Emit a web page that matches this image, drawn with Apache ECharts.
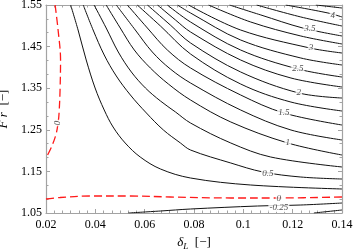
<!DOCTYPE html>
<html><head><meta charset="utf-8">
<script src="https://cdn.jsdelivr.net/npm/echarts@6/dist/echarts.min.js"></script>
<style>html,body{margin:0;padding:0;background:#fff}#c{width:354px;height:250px}</style>
</head><body><div id="c"></div>
<script>
const xTickLabels = ['0.02','0.04','0.06','0.08','0.1','0.12','0.14'];
const yTickLabels = ['1.05','1.15','1.25','1.35','1.45','1.55'];

// contour level 0 (red, dashed) – two branches
const zeroLeft = [[0.0237,1.55],[0.0249,1.4899],[0.0259,1.4178],[0.0257,1.3457],[0.0253,1.2904],[0.0249,1.2663],[0.0241,1.2399],[0.0224,1.2111],[0.0200,1.1822]];
const zeroBottom = [[0.0200,1.0837],[0.0257,1.0873],[0.0379,1.0909],[0.0542,1.0909],[0.0704,1.0885],[0.0949,1.0861],[0.1144,1.0861],[0.1400,1.0885]];
// black contours
const neg050 = [[0.1286,1.05],[0.14,1.0572]];
const neg025 = [[0.0534,1.05],[0.0664,1.0548],[0.0786,1.0596],[0.1058,1.0668],[0.1233,1.0692],[0.14,1.0740]];
const pos025 = [[0.0300,1.55],[0.0330,1.4899],[0.0363,1.4178],[0.0399,1.3505],[0.0436,1.2976],[0.0472,1.2567],[0.0521,1.2183],[0.0582,1.1846],[0.0664,1.1558],[0.0786,1.1341],[0.1030,1.1173],[0.14,1.1077]];
const pos050 = [[0.0351,1.55],[0.0391,1.4899],[0.0436,1.4298],[0.0485,1.3793],[0.0542,1.3337],[0.0607,1.2904],[0.0676,1.2495],[0.0745,1.2183],[0.0786,1.2014],[0.0949,1.1702],[0.1079,1.1486],[0.1233,1.1365],[0.14,1.1317]];
const pos075 = [[0.0395,1.55],[0.0444,1.4947],[0.0493,1.4370],[0.0546,1.3890],[0.0603,1.3505],[0.0664,1.3192],[0.0725,1.2928],[0.0786,1.2663],[0.0949,1.2183],[0.1111,1.1846],[0.14,1.1606]];
const pos100 = [[0.0444,1.55],[0.0501,1.4947],[0.0558,1.4418],[0.0623,1.3986],[0.0696,1.3601],[0.0786,1.3216],[0.0949,1.2688],[0.1180,1.2183],[0.14,1.1894]];
const pos125 = [[0.0485,1.55],[0.0562,1.4899],[0.0631,1.4370],[0.0704,1.3962],[0.0786,1.3625],[0.0989,1.2976],[0.1193,1.2495],[0.14,1.2255]];
const pos150 = [[0.0530,1.55],[0.0611,1.4947],[0.0692,1.4418],[0.0786,1.3986],[0.0989,1.3337],[0.1164,1.2904],[0.14,1.2615]];
const pos175 = [[0.0570,1.55],[0.0664,1.4995],[0.0786,1.4322],[0.0989,1.3601],[0.1193,1.3167],[0.14,1.2952]];
const pos200 = [[0.0611,1.55],[0.0704,1.5019],[0.0786,1.4587],[0.0989,1.3890],[0.1225,1.3385],[0.14,1.3264]];
const pos225 = [[0.0652,1.55],[0.0725,1.5139],[0.0786,1.4851],[0.0989,1.4178],[0.1193,1.3745],[0.14,1.3529]];
const pos250 = [[0.0692,1.55],[0.0786,1.5091],[0.0989,1.4418],[0.1221,1.3962],[0.14,1.3769]];
const pos275 = [[0.0733,1.55],[0.0786,1.5308],[0.0989,1.4659],[0.1233,1.4226],[0.14,1.4058]];
const pos300 = [[0.0778,1.55],[0.0989,1.4899],[0.1270,1.4466],[0.14,1.4346]];
const pos325 = [[0.0859,1.55],[0.1030,1.5091],[0.1233,1.4755],[0.14,1.4563]];
const pos350 = [[0.0944,1.55],[0.1071,1.5260],[0.1241,1.4947],[0.14,1.4755]];
const pos375 = [[0.1054,1.55],[0.1233,1.5212],[0.14,1.4995]];
const pos400 = [[0.1172,1.55],[0.1343,1.5308],[0.14,1.5212]];
const pos425 = [[0.1294,1.55],[0.14,1.5428]];

// contour labels
const labelText  = ['4','3.5','3','2.5','2','1.5','1','0.5','0','-0.25'];
const labelDelta = [0.1363,0.1270,0.1274,0.1221,0.1225,0.1164,0.1180,0.1099,0.1144,0.1144];
const labelFr    = [1.5236,1.4923,1.4466,1.3962,1.3385,1.2904,1.2183,1.1438,1.0837,1.0632];
const sideLabelText = ['0'];
const sideLabelDelta = [0.0249];
const sideLabelFr = [1.2663];

const blackContours = [neg050,neg025,pos025,pos050,pos075,pos100,pos125,pos150,pos175,pos200,pos225,pos250,pos275,pos300,pos325,pos350,pos375,pos400,pos425];
const redContours = [zeroLeft, zeroBottom];

const frameColor = '#a3a3a3';
function axisCommon(showLabel, labels) {
  return {
    type:'value', splitLine:{show:false},
    axisLine:{onZero:false, lineStyle:{color:frameColor, width:1.2}},
    axisTick:{inside:true, length:4, lineStyle:{color:frameColor}},
    minorTick:{show:true, length:2.5, lineStyle:{color:frameColor}},
    axisLabel:{show:showLabel, color:'#000', fontFamily:'Liberation Serif', fontSize:12,
      formatter:(v, i) => labels[i] !== undefined ? labels[i] : ''}
  };
}

const series = [];
blackContours.forEach(d => series.push({type:'line', data:d, showSymbol:false, smooth:0.35, silent:true,
  lineStyle:{color:'#111', width:1}, z:2, xAxisIndex:0, yAxisIndex:0}));
redContours.forEach(d => series.push({type:'line', data:d, showSymbol:false, smooth:0.35, silent:true,
  lineStyle:{color:'#ff1a1a', width:1.3, type:[8,4]}, z:3, xAxisIndex:0, yAxisIndex:0}));
series.push({type:'scatter', symbolSize:1, itemStyle:{color:'rgba(0,0,0,0)'}, silent:true, z:5,
  data: labelText.map((t,i)=>[labelDelta[i], labelFr[i], t]),
  label:{show:true, position:'inside', formatter:p=>p.data[2], color:'#222', fontFamily:'Liberation Serif',
    fontStyle:'italic', fontSize:9, backgroundColor:'#fff', padding:[0,1]}});
series.push({type:'scatter', symbolSize:1, itemStyle:{color:'rgba(0,0,0,0)'}, silent:true, z:5,
  data: sideLabelText.map((t,i)=>[sideLabelDelta[i], sideLabelFr[i], t]),
  label:{show:true, position:'inside', rotate:90, formatter:p=>p.data[2], color:'#222', fontFamily:'Liberation Serif',
    fontStyle:'italic', fontSize:9, backgroundColor:'#fff', padding:[0,1]}});

const chart = echarts.init(document.getElementById('c'), null, {renderer:'canvas'});
const xb = axisCommon(true, xTickLabels);
Object.assign(xb, {min:0.02, max:0.14, interval:0.02, position:'bottom',
  name:'{a|δ}{b|L}  {c|[−]}', nameLocation:'middle', nameGap:19,
  nameTextStyle:{color:'#000', rich:{
    a:{fontFamily:'Liberation Serif', fontStyle:'italic', fontSize:13, color:'#000'},
    b:{fontFamily:'Liberation Serif', fontStyle:'italic', fontSize:9, color:'#000', padding:[8,0,0,0]},
    c:{fontFamily:'Liberation Serif', fontSize:13, color:'#000'}}}});
xb.minorTick.splitNumber = 6;
const xt = axisCommon(false, xTickLabels);
Object.assign(xt, {min:0.02, max:0.14, interval:0.02, position:'top'});
xt.minorTick.splitNumber = 6;
const yl = axisCommon(true, yTickLabels);
Object.assign(yl, {min:1.05, max:1.55, interval:0.1, position:'left',
  name:'{a|F r}  {c|[−]}', nameLocation:'middle', nameGap:33, nameRotate:90,
  nameTextStyle:{color:'#000', rich:{
    a:{fontFamily:'Liberation Serif', fontStyle:'italic', fontSize:13, color:'#000'},
    c:{fontFamily:'Liberation Serif', fontSize:13, color:'#000'}}}});
yl.axisLabel.margin = 4;
yl.minorTick.splitNumber = 3;
const yr = axisCommon(false, yTickLabels);
Object.assign(yr, {min:1.05, max:1.55, interval:0.1, position:'right'});
yr.minorTick.splitNumber = 3;
xb.axisLabel.margin = 6;

chart.setOption({
  animation:false,
  grid:{left:46, right:12, top:5, bottom:37, containLabel:false, outerBoundsMode:'none'},
  xAxis:[xb, xt],
  yAxis:[yl, yr],
  series
});
</script></body></html>
